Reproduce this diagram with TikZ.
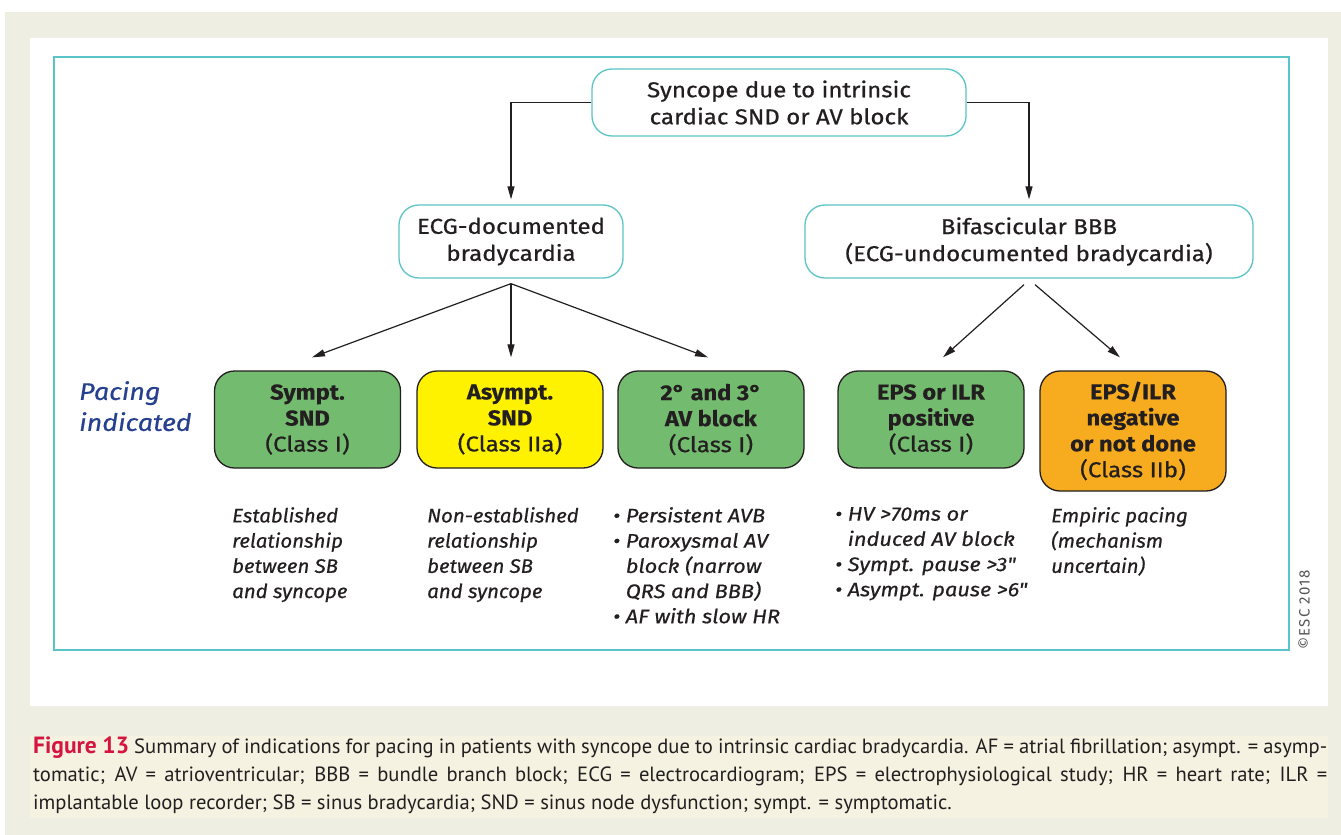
\documentclass[tikz,border=0pt]{standalone}
\usepackage{fontspec}
\setmainfont{Fira Sans}
\newfontfamily\regf[FakeStretch=1.12,FakeBold=0.6]{Fira Sans}
\newfontfamily\boldf[FakeStretch=1.1,FakeBold=0.3]{Fira Sans}
\newfontfamily\itf[FakeStretch=1.05,FakeBold=0.5]{Fira Sans}
\newfontfamily\itwf[FakeStretch=1.12,FakeBold=0.5]{Fira Sans}
\newfontfamily\capfont{PT Sans}
\usetikzlibrary{arrows.meta}
\definecolor{bg}{HTML}{EFEEE3}
\definecolor{capband}{HTML}{F5F2E2}
\definecolor{cyanf}{HTML}{5BC4C8}
\definecolor{gbox}{HTML}{73BB6E}
\definecolor{ybox}{HTML}{FFF200}
\definecolor{obox}{HTML}{F7AB1E}
\definecolor{ink}{HTML}{231F20}
\definecolor{pblue}{HTML}{25408F}
\definecolor{figred}{HTML}{D4163F}
\definecolor{escgray}{HTML}{555555}
\begin{document}
\begin{tikzpicture}[x=1pt,y=-1pt,
  cbox/.style={draw=cyanf, line width=1.3pt, rounded corners=20pt, fill=white, align=center,
    font=\regf\fontsize{21.5}{27}\selectfont, text=ink, inner sep=0pt},
  pbox/.style={draw=ink, line width=1.3pt, rounded corners=20pt, align=center,
    font=\boldf\fontsize{21.5}{26}\selectfont, text=ink, inner sep=0pt, minimum width=186pt},
  desc/.style={anchor=north west, align=left, font=\itf\itshape\fontsize{19.5}{25.2}\selectfont, text=ink, inner sep=0pt},
  descw/.style={desc, font=\itwf\itshape\fontsize{19.5}{25.2}\selectfont},
  arr/.style={draw=ink, line width=1.2pt, -{Triangle[length=13pt,width=7pt]}},
  capline/.style={anchor=base west, inner sep=0pt, text=ink, font=\capfont\fontsize{20.6}{28}\selectfont}
]
\useasboundingbox (0,0) rectangle (1341,835);
\fill[white] (0,0) rectangle (1341,835);
\fill[bg] (5,12) rectangle (1341,835);
\fill[white] (30,38) rectangle (1328,706);
\fill[capband] (30,736) rectangle (1328,818);
\draw[cyanf, line width=2.6pt] (54,57) rectangle (1289,650);

% top level
\node[cbox, minimum width=374pt, minimum height=67pt] (top) at (779,102.5)
  {Syncope due to intrinsic\\cardiac SND or AV block};
\node[cbox, minimum width=224pt, minimum height=73pt] (ecg) at (511,241.5)
  {ECG-documented\\bradycardia};
\node[cbox, minimum width=448pt, minimum height=73pt] (bif) at (1029,241.5)
  {Bifascicular BBB\\(ECG-undocumented bradycardia)};

% indication boxes
\node[pbox, fill=gbox, minimum height=97pt] (sympt) at (307.5,419.5)
  {\textbf{Sympt.}\\\textbf{SND}\\{\regf (Class I)}};
\node[pbox, fill=ybox, minimum height=97pt] (asympt) at (510,419.5)
  {\textbf{Asympt.}\\\textbf{SND}\\{\regf (Class IIa)}};
\node[pbox, fill=gbox, minimum height=97pt] (avb) at (711,419.5)
  {\textbf{2° and 3°}\\\textbf{AV block}\\{\regf (Class I)}};
\node[pbox, fill=gbox, minimum height=97pt] (eps) at (931,419.5)
  {\textbf{EPS or ILR}\\\textbf{positive}\\{\regf (Class I)}};
\node[pbox, fill=obox, minimum height=120pt] (neg) at (1133,431)
  {\textbf{EPS/ILR}\\\textbf{negative}\\\textbf{or not done}\\{\regf (Class IIb)}};

\node[anchor=north west, align=left, inner sep=0pt, text=pblue,
  font=\itwf\itshape\fontsize{24}{31}\selectfont] (pacing) at (79,381) {Pacing\\indicated};

% descriptions
\node[desc] (d1) at (232,507) {Established\\relationship\\between SB\\and syncope};
\node[desc] (d2) at (427,507) {Non-established\\relationship\\between SB\\and syncope};
\node[descw] (d3) at (613,507) {\textbullet\ Persistent AVB\\\textbullet\ Paroxysmal AV\\\hphantom{\textbullet\ }block (narrow\\\hphantom{\textbullet\ }QRS and BBB)\\\textbullet\ AF with slow HR};
\node[descw] (d4) at (835,507) {\textbullet\ HV >70ms or\\\hphantom{\textbullet\ }induced AV block\\\textbullet\ Sympt. pause >3"\\\textbullet\ Asympt. pause >6"};
\node[desc] (d5) at (1051,507) {Empiric pacing\\(mechanism\\uncertain)};

\node[rotate=90, inner sep=0pt, text=escgray, font=\fontsize{15}{15}\selectfont] (esc) at (1304,610)
  {\addfontfeature{LetterSpace=8}©ESC 2018};

% connectors
\draw[arr] (top.west) -| ([yshift=5pt]ecg.north);
\draw[arr] (top.east) -| ([yshift=5pt]bif.north);
\draw[arr] ([yshift=-5pt]ecg.south) -- ([xshift=4.5pt,yshift=13pt]sympt.north);
\draw[arr] ([yshift=-5pt]ecg.south) -- ([xshift=1pt,yshift=13pt]asympt.north);
\draw[arr] ([yshift=-5pt]ecg.south) -- ([xshift=-3pt,yshift=13pt]avb.north);
\draw[arr] ([xshift=-5pt,yshift=-6pt]bif.south) -- ([xshift=12pt,yshift=13pt]eps.north);
\draw[arr] ([xshift=6pt,yshift=-6pt]bif.south) -- ([xshift=-13pt,yshift=13pt]neg.north);

% caption
\node[capline] (cap1) at (33,753) {\makebox[1294pt][s]{\textcolor{figred}{\bfseries\fontsize{23.5}{28}\selectfont Figure 13} Summary of indications for pacing in patients with syncope due to intrinsic cardiac bradycardia. AF = atrial fibrillation; asympt. = asymp-}};
\node[capline] (cap2) at (33,781) {\makebox[1294pt][s]{tomatic; AV = atrioventricular; BBB = bundle branch block; ECG = electrocardiogram; EPS = electrophysiological study; HR = heart rate; ILR =}};
\node[capline] (cap3) at (33,809) {implantable loop recorder; SB = sinus bradycardia; SND = sinus node dysfunction; sympt. = symptomatic.};
\end{tikzpicture}
\end{document}
